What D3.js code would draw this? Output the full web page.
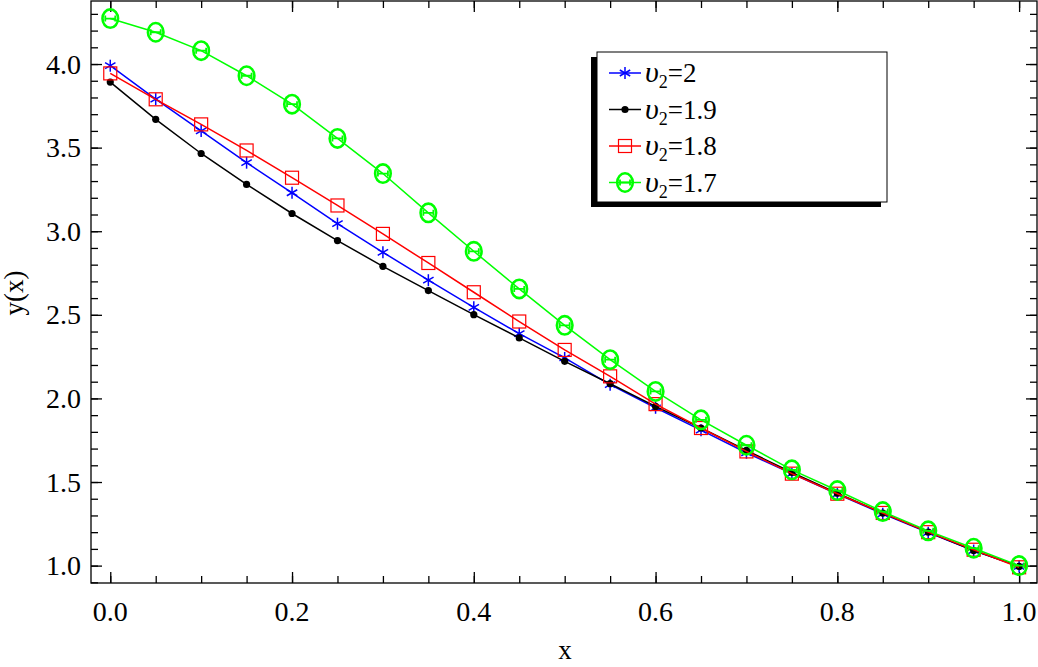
<!DOCTYPE html>
<html>
<head>
<meta charset="utf-8">
<script src="https://cdn.jsdelivr.net/npm/d3@7"></script>
<style>
  body { margin: 0; background: #fff; }
  svg text { font-family: "Liberation Serif", "Times New Roman", serif; fill: #000; }
</style>
</head>
<body>
<svg id="chart" width="1038" height="667"></svg>
<script>
// x positions shared by every series
const xs = [0, 0.05, 0.1, 0.15, 0.2, 0.25, 0.3, 0.35, 0.4, 0.45, 0.5,
            0.55, 0.6, 0.65, 0.7, 0.75, 0.8, 0.85, 0.9, 0.95, 1.0];

// values
const yNu20 = [3.99, 3.79, 3.60, 3.41, 3.23, 3.045, 2.874, 2.707, 2.545, 2.387, 2.242,
               2.082, 1.944, 1.81, 1.675, 1.55, 1.428, 1.31, 1.197, 1.09, 0.995];
const yNu19 = [3.892, 3.669, 3.465, 3.28, 3.106, 2.944, 2.79, 2.645, 2.501, 2.362, 2.222,
               2.088, 1.952, 1.823, 1.689, 1.557, 1.433, 1.314, 1.2, 1.09, 0.995];
const yNu18 = [3.944, 3.789, 3.639, 3.483, 3.32, 3.154, 2.984, 2.81, 2.635, 2.46, 2.29,
               2.132, 1.966, 1.823, 1.683, 1.55, 1.43, 1.315, 1.2, 1.095, 0.99];
const yNu17 = [4.272, 4.19, 4.08, 3.93, 3.76, 3.555, 3.345, 3.11, 2.88, 2.655, 2.437,
               2.232, 2.042, 1.872, 1.72, 1.573, 1.449, 1.323, 1.208, 1.104, 1.0];

const seriesNames = ['2', '1.9', '1.8', '1.7'];
const xMajor = [0, 0.2, 0.4, 0.6, 0.8, 1.0];
const yMajor = [1.0, 1.5, 2.0, 2.5, 3.0, 3.5, 4.0];

const series = [
  { name: seriesNames[0], values: yNu20, color: '#0000ff', marker: 'star' },
  { name: seriesNames[1], values: yNu19, color: '#000000', marker: 'dot' },
  { name: seriesNames[2], values: yNu18, color: '#ff0000', marker: 'square' },
  { name: seriesNames[3], values: yNu17, color: '#00ff00', marker: 'theta' }
];

const svg = d3.select('#chart');
const pLeft = 91, pRight = 1037, pTop = 1, pBottom = 583;

const x = d3.scaleLinear().domain([-0.0212, 1.0197]).range([pLeft, pRight]);
const y = d3.scaleLinear().domain([0.896, 4.377]).range([pBottom, pTop]);

const xMinor = d3.range(0, 1.0001, 0.05).map(v => +v.toFixed(2));
const yMinor = d3.range(0.9, 4.35, 0.1).map(v => +v.toFixed(1));

// ticks, all pointing inward
function ticks(axis, transform) {
  const g = svg.append('g').attr('transform', transform).call(axis);
  g.select('.domain').remove();
  g.selectAll('.tick line').attr('stroke', '#000').attr('stroke-width', 1.3);
  g.selectAll('.tick text').remove();
  return g;
}
ticks(d3.axisBottom(x).tickValues(xMinor).tickSize(-7), `translate(0,${pBottom})`);
ticks(d3.axisBottom(x).tickValues(xMajor).tickSize(-11), `translate(0,${pBottom})`);
ticks(d3.axisTop(x).tickValues(xMinor).tickSize(-7), `translate(0,${pTop})`);
ticks(d3.axisTop(x).tickValues(xMajor).tickSize(-11), `translate(0,${pTop})`);
ticks(d3.axisLeft(y).tickValues(yMinor).tickSize(-7), `translate(${pLeft},0)`);
ticks(d3.axisLeft(y).tickValues(yMajor).tickSize(-11), `translate(${pLeft},0)`);
ticks(d3.axisRight(y).tickValues(yMinor).tickSize(-7), `translate(${pRight},0)`);
ticks(d3.axisRight(y).tickValues(yMajor).tickSize(-11), `translate(${pRight},0)`);

// tick labels
svg.append('g').selectAll('text').data(xMajor).join('text')
  .attr('x', d => x(d)).attr('y', 621)
  .attr('text-anchor', 'middle').attr('font-size', 28)
  .text(d => d.toFixed(1));
svg.append('g').selectAll('text').data(yMajor).join('text')
  .attr('x', 81).attr('y', d => y(d)).attr('dy', '0.34em')
  .attr('text-anchor', 'end').attr('font-size', 28)
  .text(d => d.toFixed(1));

// frame
svg.append('rect')
  .attr('x', pLeft).attr('y', pTop)
  .attr('width', pRight - pLeft).attr('height', pBottom - pTop)
  .attr('fill', 'none').attr('stroke', '#000').attr('stroke-width', 1.3);

// axis titles
svg.append('text').attr('x', (pLeft + pRight) / 2 + 1).attr('y', 659)
  .attr('text-anchor', 'middle').attr('font-size', 27).text('x');
svg.append('text').attr('transform', 'translate(23,293) rotate(-90)')
  .attr('text-anchor', 'middle').attr('font-size', 27).text('y(x)');

// markers
function drawMarker(sel, type, color) {
  if (type === 'star') {
    [0, 60, 120].forEach(a => {
      sel.append('line')
        .attr('x1', 0).attr('y1', -6).attr('x2', 0).attr('y2', 6)
        .attr('transform', `rotate(${a})`)
        .attr('stroke', color).attr('stroke-width', 1.5);
    });
  } else if (type === 'dot') {
    sel.append('circle').attr('r', 3.6).attr('fill', color);
  } else if (type === 'square') {
    sel.append('rect').attr('x', -6.5).attr('y', -6.5).attr('width', 13).attr('height', 13)
      .attr('fill', 'none').attr('stroke', color).attr('stroke-width', 1.2);
  } else if (type === 'theta') {
    sel.append('ellipse').attr('rx', 7.8).attr('ry', 9.2)
      .attr('fill', 'none').attr('stroke', color).attr('stroke-width', 2.6);
    sel.append('path').attr('d', 'M-5,0H5M-5,-3V3M5,-3V3')
      .attr('fill', 'none').attr('stroke', color).attr('stroke-width', 1.8);
  }
}

const line = d3.line().x(d => x(d[0])).y(d => y(d[1]));

series.forEach(s => {
  const pts = xs.map((v, i) => [v, s.values[i]]);
  const g = svg.append('g');
  g.append('path').attr('d', line(pts))
    .attr('fill', 'none').attr('stroke', s.color).attr('stroke-width', 1.5);
  g.selectAll('g.m').data(pts).join('g').attr('class', 'm')
    .attr('transform', d => `translate(${x(d[0])},${y(d[1])})`)
    .each(function () { drawMarker(d3.select(this), s.marker, s.color); });
});

// legend
const lg = svg.append('g');
lg.append('rect').attr('x', 591).attr('y', 57).attr('width', 290).attr('height', 150).attr('fill', '#000');
lg.append('rect').attr('x', 597).attr('y', 52).attr('width', 290).attr('height', 150)
  .attr('fill', '#fff').attr('stroke', '#000').attr('stroke-width', 1);

series.forEach((s, i) => {
  const cy = 73 + i * 36.5;
  const row = lg.append('g');
  row.append('line').attr('x1', 609).attr('x2', 641).attr('y1', cy).attr('y2', cy)
    .attr('stroke', s.color).attr('stroke-width', 1.5);
  drawMarker(row.append('g').attr('transform', `translate(625,${cy})`), s.marker, s.color);
  const t = row.append('text').attr('x', 645).attr('y', cy + 9).attr('font-size', 27);
  t.append('tspan').attr('font-style', 'italic').attr('font-size', 30).text('υ');
  t.append('tspan').attr('font-size', 18).attr('dy', 6).text('2');
  t.append('tspan').attr('dy', -6).text('=' + s.name);
});
</script>
</body>
</html>
